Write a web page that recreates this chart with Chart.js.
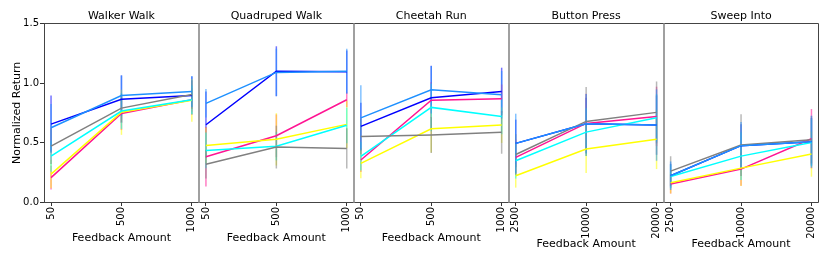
<!DOCTYPE html>
<html>
<head>
<meta charset="utf-8">
<script src="https://cdn.jsdelivr.net/npm/chart.js@4.4.0/dist/chart.umd.min.js"></script>
<style>
  body { margin: 0; background: #fff; }
  #wrap { position: relative; width: 830px; height: 262px; }
  #wrap canvas { position: absolute; left: 0; top: 0; }
</style>
</head>
<body>
<div id="wrap"></div>
<script>
// Titles and tick labels
const panelTitles = ['Walker Walk', 'Quadruped Walk', 'Cheetah Run', 'Button Press', 'Sweep Into'];
const dmcFeedback = ['50', '500', '1000'];
const mwFeedback = ['2500', '10000', '20000'];
const yTickLabels = ['0.0', '0.5', '1.0', '1.5'];

// Series order: blue, dodgerblue, gray, cyan, yellow, deeppink
const walkerMean = [
  [0.655, 0.865, 0.895],
  [0.625, 0.895, 0.93],
  [0.47, 0.79, 0.905],
  [0.385, 0.765, 0.86],
  [0.235, 0.755, 0.855],
  [0.205, 0.745, 0.86]
];
const walkerErr = [
  [0.24, 0.2, 0.16],
  [0.2, 0.17, 0.13],
  [0.15, 0.12, 0.12],
  [0.13, 0.15, 0.12],
  [0.12, 0.19, 0.18],
  [0.1, 0.14, 0.1]
];

const quadMean = [
  [0.65, 1.10, 1.095],
  [0.83, 1.09, 1.10],
  [0.317, 0.462, 0.451],
  [0.434, 0.47, 0.645],
  [0.476, 0.527, 0.653],
  [0.38, 0.557, 0.86]
];
const quadErr = [
  [0.28, 0.21, 0.18],
  [0.12, 0.2, 0.19],
  [0.12, 0.18, 0.17],
  [0.15, 0.12, 0.15],
  [0.15, 0.22, 0.2],
  [0.25, 0.18, 0.06]
];

const cheetahMean = [
  [0.636, 0.877, 0.93],
  [0.708, 0.944, 0.902],
  [0.552, 0.563, 0.586],
  [0.384, 0.796, 0.72],
  [0.325, 0.616, 0.647],
  [0.353, 0.857, 0.868]
];
const cheetahErr = [
  [0.2, 0.27, 0.2],
  [0.275, 0.2, 0.2],
  [0.15, 0.15, 0.18],
  [0.12, 0.2, 0.15],
  [0.125, 0.2, 0.15],
  [0.1, 0.15, 0.12]
];

const buttonMean = [
  [0.493, 0.658, 0.647],
  [0.493, 0.658, 0.647],
  [0.4, 0.678, 0.754],
  [0.347, 0.588, 0.708],
  [0.221, 0.445, 0.527],
  [0.375, 0.661, 0.72]
];
const buttonErr = [
  [0.2, 0.22, 0.25],
  [0.25, 0.25, 0.3],
  [0.17, 0.29, 0.26],
  [0.15, 0.2, 0.2],
  [0.1, 0.2, 0.25],
  [0.15, 0.25, 0.25]
];

const sweepMean = [
  [0.221, 0.474, 0.507],
  [0.221, 0.474, 0.507],
  [0.26, 0.479, 0.523],
  [0.215, 0.386, 0.5],
  [0.162, 0.285, 0.403],
  [0.151, 0.277, 0.532]
];
const sweepErr = [
  [0.1, 0.18, 0.2],
  [0.12, 0.2, 0.22],
  [0.125, 0.26, 0.2],
  [0.1, 0.2, 0.2],
  [0.09, 0.15, 0.19],
  [0.08, 0.14, 0.25]
];

const colors = ['#0000ff', '#1e90ff', '#808080', '#00ffff', '#ffff00', '#ff1493'];
// higher number = drawn earlier (underneath)
const drawOrder = [6, 1, 2, 3, 4, 5];

const panels = [
  { labels: dmcFeedback, mean: walkerMean, err: walkerErr },
  { labels: dmcFeedback, mean: quadMean, err: quadErr },
  { labels: dmcFeedback, mean: cheetahMean, err: cheetahErr },
  { labels: mwFeedback, mean: buttonMean, err: buttonErr },
  { labels: mwFeedback, mean: sweepMean, err: sweepErr }
];

// plot area geometry
const W = 830, H = 262;
const plotLeft = [44, 198.9, 353.8, 508.7, 663.6];
const plotWidth = 154.9;

const family = "'DejaVu Sans', sans-serif";
const tickFont = { family, size: 10 };
const labelFont = { family, size: 11 };

// vertical error bars under the lines
const errorBars = {
  id: 'errorBars',
  beforeDatasetsDraw(chart) {
    const { ctx, scales: { x, y } } = chart;
    ctx.save();
    ctx.lineWidth = 1.5;
    ctx.globalAlpha = 0.55;
    chart.data.datasets.slice().sort((a, b) => b.order - a.order).forEach(ds => {
      ctx.strokeStyle = ds.borderColor;
      ds.data.forEach((pt, i) => {
        const px = x.getPixelForValue(pt.x);
        ctx.beginPath();
        ctx.moveTo(px, y.getPixelForValue(pt.y - ds.errors[i]));
        ctx.lineTo(px, y.getPixelForValue(pt.y + ds.errors[i]));
        ctx.stroke();
      });
    });
    ctx.restore();
  }
};

// subplot spines
const frame = {
  id: 'frame',
  afterDraw(chart, args, opts) {
    const { ctx, chartArea: a } = chart;
    const p = opts.index;
    const top = Math.round(a.top) - 0.5, bottom = Math.round(a.bottom) + 0.5;
    const left = Math.round(a.left) + 0.5, right = Math.round(a.right) - 0.5;
    ctx.save();
    ctx.lineWidth = 1;
    ctx.strokeStyle = '#444';
    ctx.beginPath();
    ctx.moveTo(a.left, top); ctx.lineTo(a.right, top);
    ctx.moveTo(a.left, bottom); ctx.lineTo(a.right, bottom);
    ctx.stroke();
    ctx.strokeStyle = p === 0 ? '#444' : '#a0a0a0';
    ctx.beginPath();
    ctx.moveTo(left, top); ctx.lineTo(left, bottom);
    ctx.stroke();
    ctx.strokeStyle = p === panels.length - 1 ? '#444' : '#a0a0a0';
    ctx.beginPath();
    ctx.moveTo(right, top); ctx.lineTo(right, bottom);
    ctx.stroke();
    ctx.restore();
  }
};

panels.forEach((panel, p) => {
  const canvas = document.createElement('canvas');
  canvas.width = W;
  canvas.height = H;
  document.getElementById('wrap').appendChild(canvas);

  const datasets = panel.mean.map((vals, s) => ({
    data: vals.map((v, i) => ({ x: i, y: v })),
    errors: panel.err[s],
    order: drawOrder[s],
    borderColor: colors[s],
    backgroundColor: colors[s],
    borderWidth: 1.5,
    pointRadius: 0,
    tension: 0
  }));

  const yAxis = p === 0 ? {
    min: 0, max: 1.5,
    afterBuildTicks: s => { s.ticks = yTickLabels.map(t => ({ value: parseFloat(t) })); },
    ticks: { callback: (v, i) => yTickLabels[i], font: tickFont, color: '#000', padding: 1 },
    grid: { drawOnChartArea: false, tickLength: 4, color: '#333' },
    border: { display: false },
    title: { display: true, text: 'Normalized Return', font: labelFont, color: '#000', padding: { top: 10.4, bottom: 0 } },
    afterFit: s => { s.width = 44; }
  } : { display: false, min: 0, max: 1.5 };

  new Chart(canvas, {
    type: 'line',
    data: { datasets },
    plugins: [errorBars, frame],
    options: {
      responsive: false,
      animation: false,
      devicePixelRatio: 1,
      layout: {
        padding: { left: p === 0 ? 0 : plotLeft[p], right: W - plotLeft[p] - plotWidth, top: 0, bottom: 0 }
      },
      scales: {
        x: {
          type: 'linear', min: -0.1, max: 2.1,
          afterBuildTicks: s => { s.ticks = panel.labels.map((_, i) => ({ value: i })); },
          ticks: {
            callback: (v, i) => panel.labels[i],
            minRotation: 90, maxRotation: 90, autoSkip: false,
            font: tickFont, color: '#000', padding: 1
          },
          grid: { drawOnChartArea: false, tickLength: 4, color: '#333' },
          border: { display: false },
          title: {
            display: true, text: 'Feedback Amount', font: labelFont, color: '#000',
            padding: { top: 0, bottom: p >= 3 ? 11 : 17 }
          },
          afterFit: s => { s.height = 60; }
        },
        y: yAxis
      },
      plugins: {
        legend: { display: false },
        tooltip: { enabled: false },
        frame: { index: p },
        title: {
          display: true, text: panelTitles[p], fullSize: false,
          font: { family, size: 11, weight: 'normal' }, color: '#000',
          padding: { top: 9.4, bottom: 1.1 }
        }
      }
    }
  });
});
</script>
</body>
</html>
